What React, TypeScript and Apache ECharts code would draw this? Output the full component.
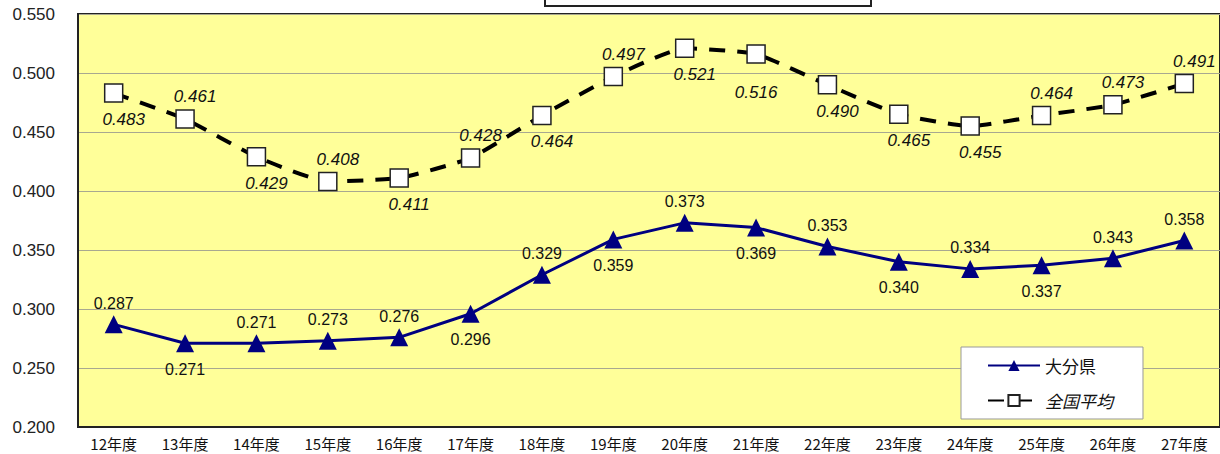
import React, { useEffect, useRef } from "react";
import * as echarts from "echarts";

const categories = ["12年度","13年度","14年度","15年度","16年度","17年度","18年度","19年度","20年度","21年度","22年度","23年度","24年度","25年度","26年度","27年度"];
const oitaValues = [0.287,0.271,0.271,0.273,0.276,0.296,0.329,0.359,0.373,0.369,0.353,0.340,0.334,0.337,0.343,0.358];
const oitaLabelPos = ["top","bottom","top","top","top","bottom","top","bottom","top","bottom","top","bottom","top","bottom","top","top"];
const nationalValues = [0.483,0.461,0.429,0.408,0.411,0.428,0.464,0.497,0.521,0.516,0.490,0.465,0.455,0.464,0.473,0.491];
const nationalLabelPos = ["bottom","top","bottom","top","bottom","top","bottom","top","bottom","bottom","bottom","bottom","bottom","top","top","top"];
const yTicks = { min: 0.2, max: 0.55, interval: 0.05 };

export default function App() {
  const ref = useRef<HTMLDivElement>(null);
  useEffect(() => {
    const chart = echarts.init(ref.current!, null, { renderer: "svg" });
    const numFont = "'Liberation Sans', Arial, sans-serif";
    const jpFont = "'Noto Sans CJK JP', sans-serif";
    const oitaData = oitaValues.map((v, i) => ({
      value: v,
      label: { position: oitaLabelPos[i], distance: oitaLabelPos[i] === "top" ? 4 : 9 },
    }));
    const natData = nationalValues.map((v, i) => ({
      value: v,
      label: {
        position: nationalLabelPos[i],
        distance: nationalLabelPos[i] === "top" ? 4 : (i === 9 ? 20 : 8),
        offset: i === 9 ? [0, 0] : [10, 0],
      },
    }));
    chart.setOption({
      animation: false,
      backgroundColor: "#ffffff",
      grid: {
        left: 78, right: 0, top: 14, bottom: 27,
        show: true, backgroundColor: "#FFFF99", borderColor: "#222", borderWidth: 2,
      },
      legend: {
        orient: "vertical",
        left: 961, top: 347,
        backgroundColor: "#ffffff",
        borderColor: "#999", borderWidth: 1,
        padding: [10, 30, 10, 26],
        itemWidth: 52, itemHeight: 14, itemGap: 18,
        textStyle: { fontSize: 17, color: "#111", fontFamily: jpFont },
        data: [
          { name: "大分県" },
          { name: "全国平均", textStyle: { fontStyle: "italic" } },
        ],
      },
      xAxis: {
        type: "category",
        data: categories,
        boundaryGap: true,
        axisLine: { lineStyle: { color: "#222", width: 2 } },
        axisTick: { inside: true, length: 4, lineStyle: { color: "#555" } },
        axisLabel: { fontSize: 15, color: "#111", margin: 8, fontFamily: jpFont, lineHeight: 16 },
      },
      yAxis: {
        type: "value",
        min: yTicks.min, max: yTicks.max, interval: yTicks.interval,
        axisLine: { show: true, lineStyle: { color: "#222", width: 2 } },
        axisTick: { show: false },
        splitLine: { lineStyle: { color: "#a8a890", width: 1 } },
        axisLabel: { fontSize: 17, color: "#222", margin: 23, fontFamily: numFont, formatter: (v: number) => v.toFixed(3) },
      },
      series: [
        {
          name: "大分県",
          type: "line",
          data: oitaData,
          symbol: "triangle",
          symbolSize: 18,
          itemStyle: { color: "#000080" },
          lineStyle: { color: "#000080", width: 3 },
          label: {
            show: true, fontSize: 16, color: "#111", fontFamily: numFont,
            formatter: (p: any) => Number(p.value).toFixed(3),
          },
          z: 3,
        },
        {
          name: "全国平均",
          type: "line",
          data: natData,
          smooth: 0.15,
          symbol: "rect",
          symbolSize: 18,
          itemStyle: { color: "#ffffff", borderColor: "#222", borderWidth: 1.5 },
          lineStyle: { color: "#000", width: 4, type: [16, 12] },
          label: {
            show: true, fontSize: 17, color: "#111", fontStyle: "italic", fontFamily: numFont,
            formatter: (p: any) => Number(p.value).toFixed(3),
          },
          z: 3,
        },
      ],
      graphic: [
        {
          type: "rect",
          shape: { x: 545, y: -20, width: 326, height: 26 },
          style: { fill: "#ffffff", stroke: "#222", lineWidth: 2 },
          z: 10,
        },
      ],
    });
    return () => chart.dispose();
  }, []);
  return <div ref={ref} style={{ position: "absolute", left: 0, top: 0, width: 1220, height: 454 }} />;
}
